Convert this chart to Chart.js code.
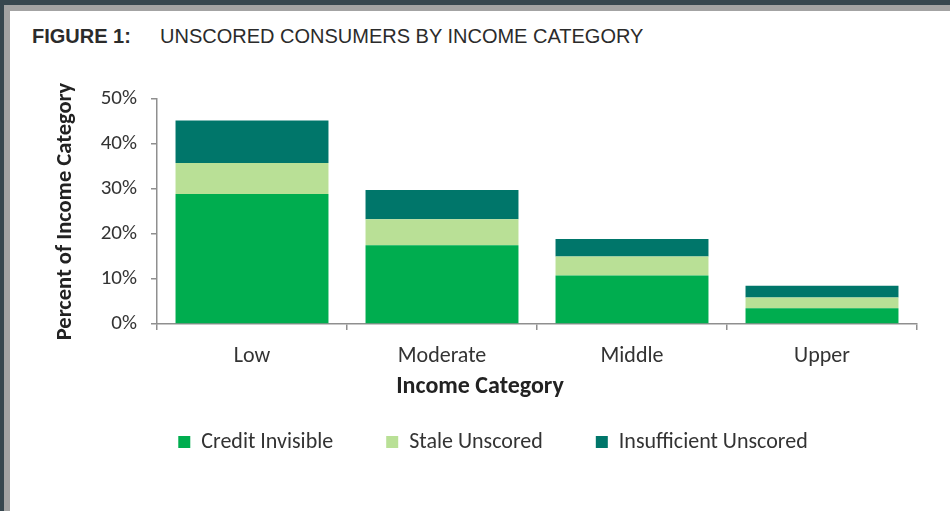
<!DOCTYPE html>
<html>
<head>
<meta charset="utf-8">
<title>Unscored consumers by income category</title>
<script src="https://cdn.jsdelivr.net/npm/chart.js@4"></script>
<style>
  html, body { margin: 0; padding: 0; background: #fff; }
  #page { position: relative; width: 950px; height: 511px; overflow: hidden; background: #fff; }
  .frame-top { position: absolute; left: 0; top: 0; width: 950px; height: 5px; background: #37474f; }
  .frame-top-in { position: absolute; left: 4px; top: 5px; width: 946px; height: 6px; background: #a3a3a3; }
  .frame-left { position: absolute; left: 0; top: 0; width: 4px; height: 511px; background: #37474f; }
  .frame-left-in { position: absolute; left: 4px; top: 5px; width: 6px; height: 506px; background: #a3a3a3; }
  .fig { position: absolute; top: 26px; font: 20px/20px "Liberation Sans", Arial, sans-serif; color: #2b2b2b; white-space: nowrap; }
  #chart { position: absolute; left: 0; top: 0; }
</style>
</head>
<body>
<div id="page">
  <div class="frame-top"></div>
  <div class="frame-left"></div>
  <div class="frame-top-in"></div>
  <div class="frame-left-in"></div>
  <div class="fig" style="left:32px;font-weight:bold;">FIGURE 1:</div>
  <div class="fig" style="left:160px;">UNSCORED CONSUMERS BY INCOME CATEGORY</div>
  <canvas id="chart" width="950" height="511"></canvas>
</div>
<script>
// income groups and the share of each group that is unscored (percent)
const categories = ["Low", "Moderate", "Middle", "Upper"];
const creditInvisible = [28.9, 17.5, 10.8, 3.5];
const staleUnscored = [6.9, 5.8, 4.2, 2.4];
const insufficientUnscored = [9.4, 6.5, 3.9, 2.6];
const yTicks = [0, 10, 20, 30, 40, 50];
const xTitle = "Income Category";

const textFont = "Carlito, Lato, 'Open Sans', sans-serif";
const axisColor = "#8f8f8f";
const labelColor = "#333";

// x axis title sits a bit left of the plot centre, so it is drawn here
const xTitlePlugin = {
  id: "xTitle",
  afterDraw(chart) {
    const { ctx } = chart;
    ctx.save();
    ctx.font = `bold 24px ${textFont}`;
    ctx.fillStyle = "#222";
    ctx.textAlign = "center";
    ctx.textBaseline = "middle";
    ctx.fillText(xTitle, chart.width / 2 + 5, chart.scales.x.top + 63);
    ctx.restore();
  }
};

new Chart(document.getElementById("chart"), {
  type: "bar",
  data: {
    labels: categories,
    datasets: [
      { label: "Credit Invisible", data: creditInvisible, backgroundColor: "#00ad4f" },
      { label: "Stale Unscored", data: staleUnscored, backgroundColor: "#b9e096" },
      { label: "Insufficient Unscored", data: insufficientUnscored, backgroundColor: "#00766a" }
    ]
  },
  plugins: [xTitlePlugin],
  options: {
    responsive: false,
    animation: false,
    layout: { padding: { left: 69, right: 33, top: 99, bottom: 48 } },
    datasets: { bar: { categoryPercentage: 0.805, barPercentage: 1 } },
    plugins: {
      tooltip: { enabled: false },
      legend: {
        position: "bottom",
        labels: {
          boxWidth: 12, boxHeight: 12, padding: 53,
          color: labelColor,
          font: { family: textFont, size: 22 }
        }
      }
    },
    scales: {
      x: {
        stacked: true,
        afterFit: axis => { axis.height = 54; },
        border: { color: axisColor, width: 1.5 },
        grid: { drawOnChartArea: false, tickLength: 6, color: axisColor, lineWidth: 1.5 },
        ticks: { color: labelColor, padding: 13, font: { family: textFont, size: 22 } }
      },
      y: {
        stacked: true,
        min: 0, max: 50,
        afterFit: axis => { axis.width = 88; },
        afterBuildTicks: axis => { axis.ticks = yTicks.map(v => ({ value: v })); },
        border: { color: axisColor, width: 1.5 },
        grid: { drawOnChartArea: false, tickLength: 6, color: axisColor, lineWidth: 1.5 },
        ticks: {
          color: labelColor, padding: 14,
          font: { family: textFont, size: 21 },
          callback: v => v + "%"
        },
        title: {
          display: true, text: "Percent of Income Category", color: "#222",
          padding: { top: -17, bottom: 0 },
          font: { family: textFont, size: 22.5, weight: "bold" }
        }
      }
    }
  }
});
</script>
</body>
</html>
